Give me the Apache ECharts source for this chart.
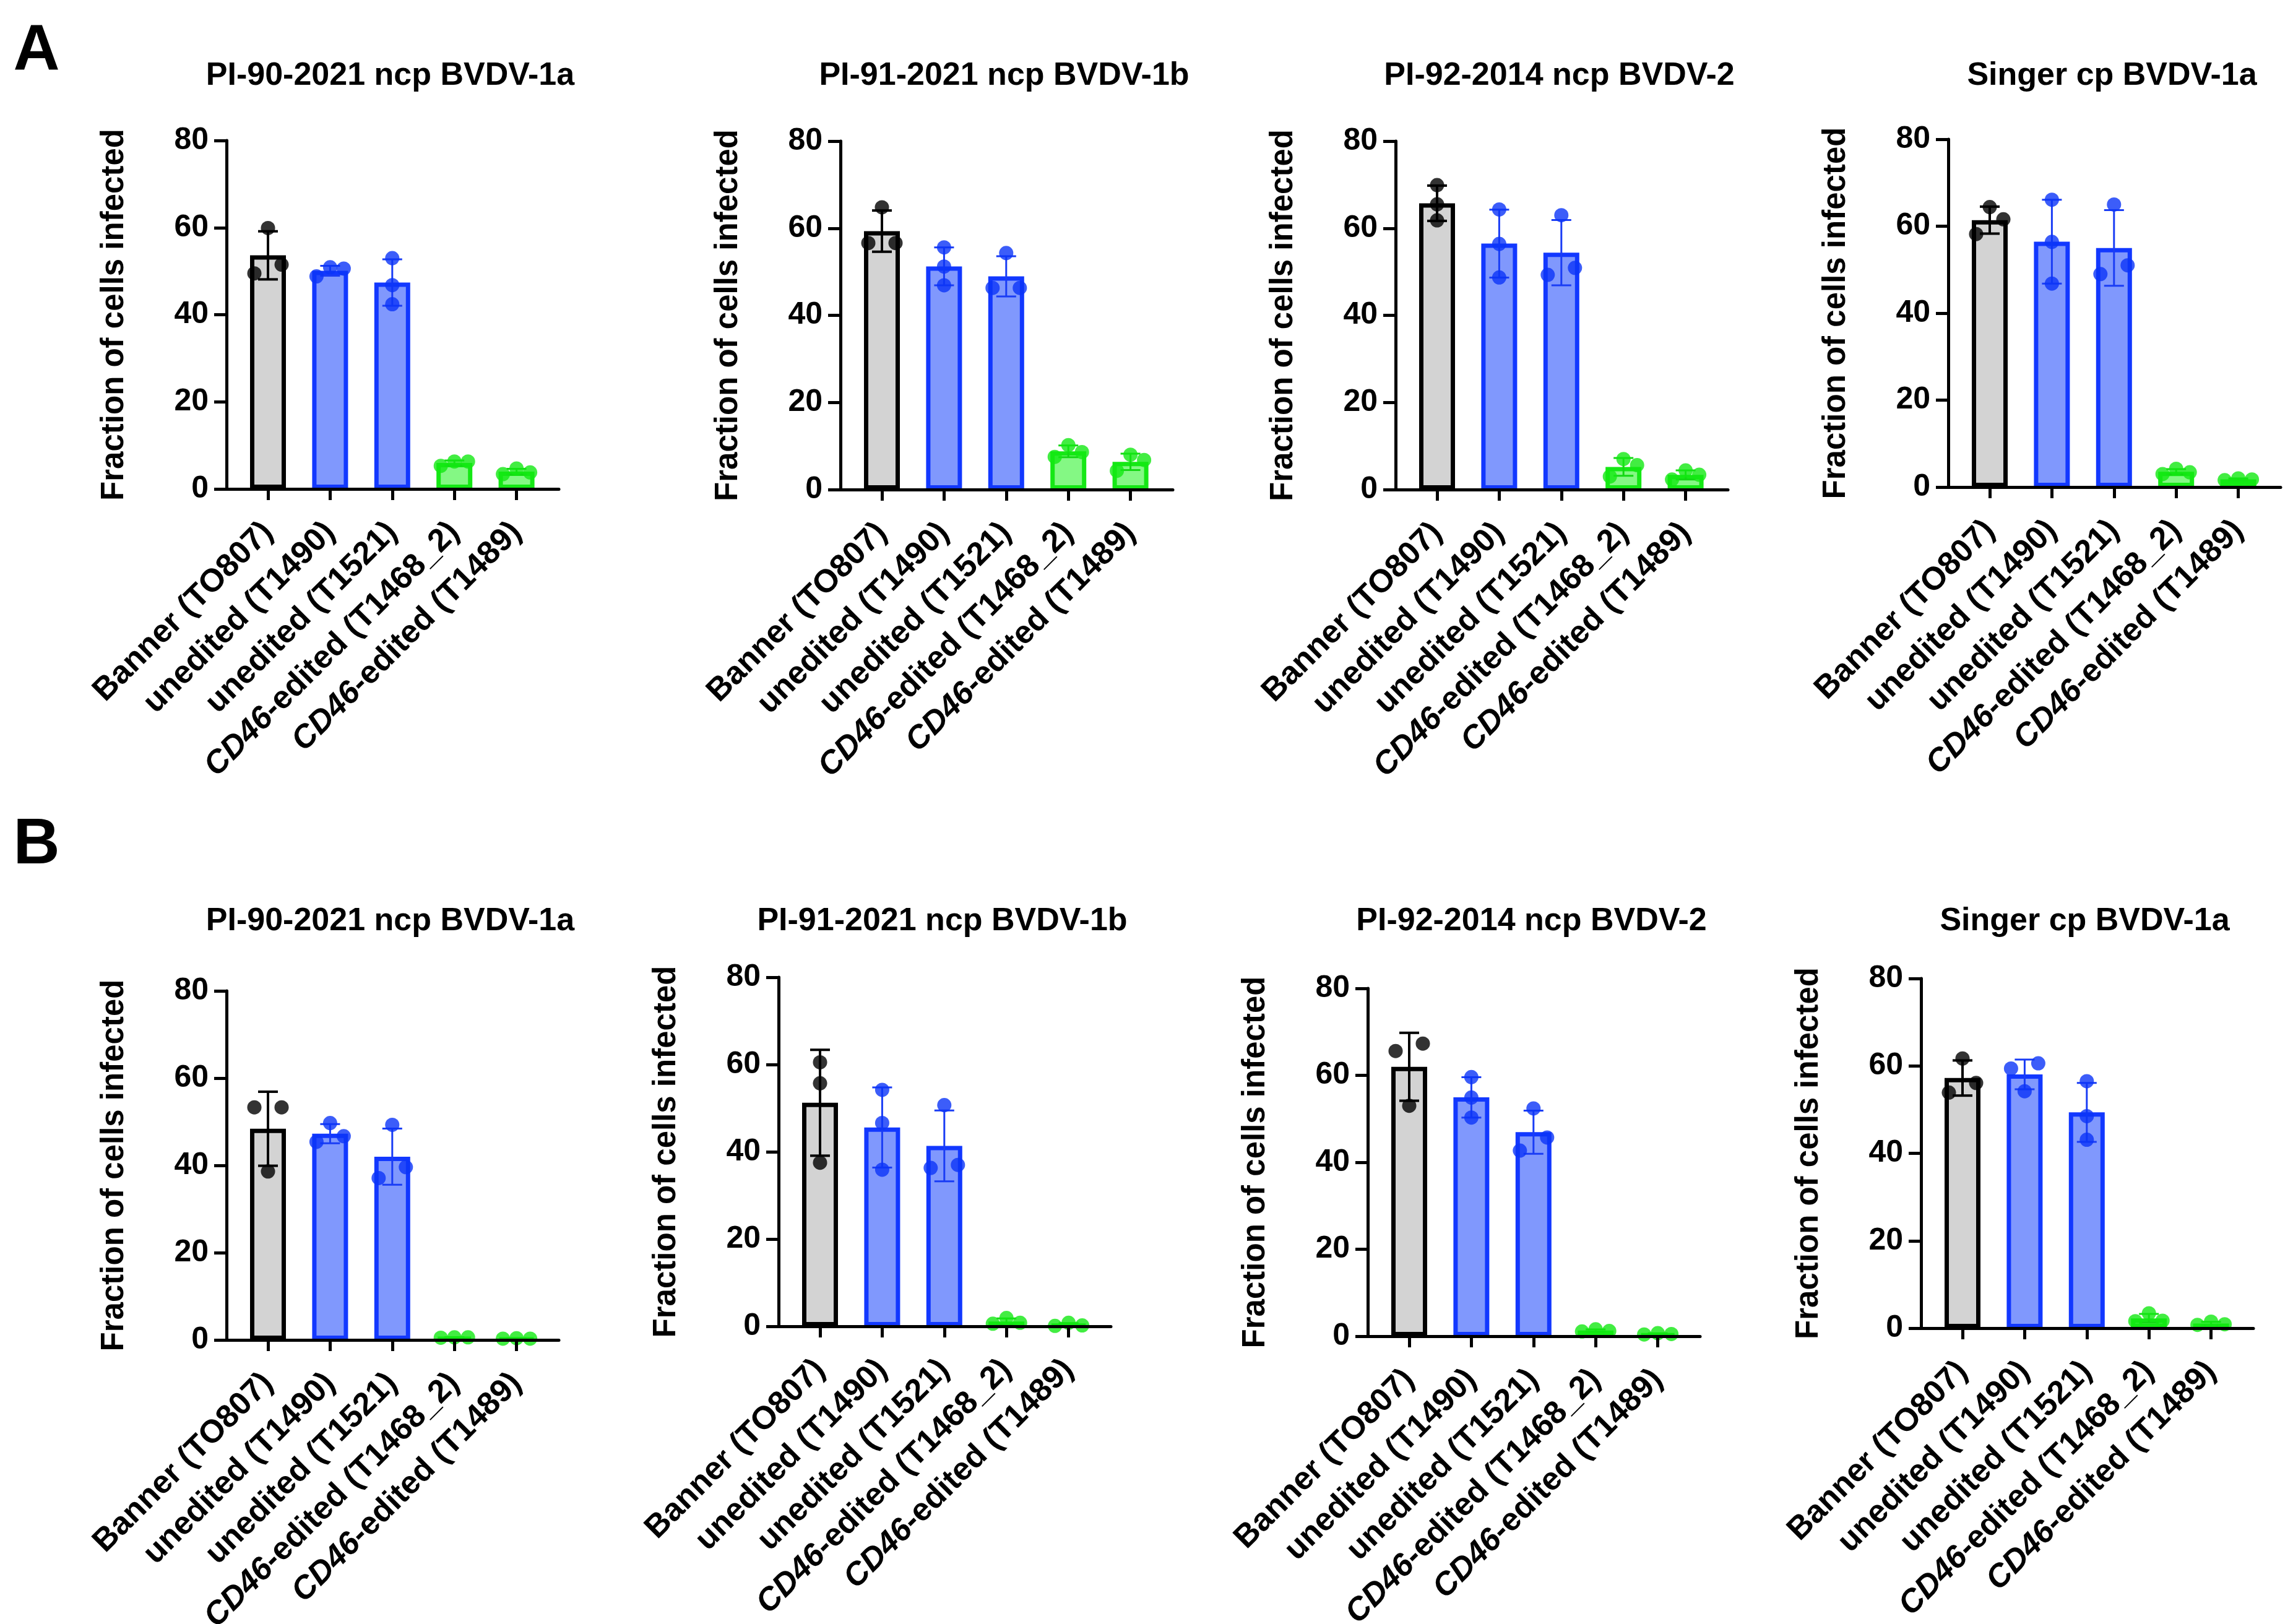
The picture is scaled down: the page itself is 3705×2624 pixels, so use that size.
<!DOCTYPE html>
<html>
<head>
<meta charset="utf-8">
<script src="https://cdn.jsdelivr.net/npm/echarts@6/dist/echarts.min.js"></script>
<style>
html,body{margin:0;padding:0;background:#ffffff;}
#chart{width:3705px;height:2624px;}
</style>
</head>
<body>
<div id="chart"></div>
<script>
// ---------------- data ----------------
const categories = ['Banner (TO807)', 'unedited (T1490)', 'unedited (T1521)', 'CD46-edited (T1468_2)', 'CD46-edited (T1489)'];
const categoryGroup = [0, 1, 1, 2, 2]; // 0 = control, 1 = unedited, 2 = CD46-edited
const panelTitles = ['PI-90-2021 ncp BVDV-1a', 'PI-91-2021 ncp BVDV-1b', 'PI-92-2014 ncp BVDV-2', 'Singer cp BVDV-1a'];
const rowLetters = ['A', 'B'];
const yAxisName = 'Fraction of cells infected';
const yTickValues = [0, 20, 40, 60, 80];

// Panel A (three replicates per cell line)
const A_PI90   = [[59.9, 49.5, 51.5], [48.8, 50.9, 50.6], [53.0, 46.8, 42.4], [5.3, 6.3, 6.3], [3.4, 4.7, 3.8]];
const A_PI91   = [[64.8, 56.6, 56.6], [55.6, 51.2, 46.9], [54.3, 46.3, 46.3], [7.5, 10.2, 8.6], [4.3, 8.0, 6.8]];
const A_PI92   = [[69.9, 65.5, 61.8], [64.3, 56.4, 48.7], [63.0, 49.3, 50.9], [7.0, 3.0, 5.6], [2.3, 4.4, 3.4]];
const A_Singer = [[64.4, 58.2, 61.6], [66.1, 56.4, 46.8], [65.0, 49.0, 51.0], [3.0, 4.2, 3.4], [1.6, 2.0, 1.75]];
// Panel B
const B_PI90   = [[53.3, 53.3, 38.6], [49.7, 45.4, 46.7], [49.3, 37.1, 39.6], [0.5, 0.6, 0.6], [0.3, 0.4, 0.3]];
const B_PI91   = [[60.5, 55.7, 37.5], [54.2, 46.6, 35.9], [50.7, 36.3, 37.0], [0.6, 1.9, 0.8], [0.1, 0.8, 0.2]];
const B_PI92   = [[67.3, 65.6, 53.0], [59.6, 54.9, 50.3], [52.4, 42.7, 45.7], [1.1, 1.6, 1.2], [0.4, 0.7, 0.5]];
const B_Singer = [[61.7, 56.1, 53.9], [60.6, 59.4, 54.2], [56.5, 48.5, 43.1], [1.7, 3.4, 1.6], [0.75, 1.5, 0.9]];

const rowsData = [[A_PI90, A_PI91, A_PI92, A_Singer], [B_PI90, B_PI91, B_PI92, B_Singer]];

// ---------------- layout & style (kept apart from data) ----------------
const FONT = '"Liberation Sans", Arial, Helvetica, sans-serif';
const panelAxisX  = [[366, 1358, 2255, 3148], [366, 1258, 2210, 3104]];
const panelTop    = [[227, 228, 228, 225], [1601, 1579, 1597, 1581]];
const panelBottom = [[790, 791, 791, 787], [2165, 2143, 2159, 2146]];
const titleY  = [123, 1489];
const letterPos = [[59, 83], [59, 1366]];
const FIRST_OFFSET = 67;   // y-axis line to first bar centre
const BAND = 100.4;        // bar spacing
const AXIS_LEN = 537;      // x-axis line length
const DOT_SIZE = 23;
const DOT_STEP = 22;
const CAP = 16;

const fillColor   = ['#d3d3d3', '#8098fd', '#84f884'];
const borderColor = ['#000000', '#1238ff', '#15e815'];
const dotColor    = ['#000000', '#0b35f8', '#13e813'];
const errColor    = ['#000000', '#1a3df5', '#13d813'];
const errWidth    = [4, 3, 3];

// ---------------- helpers ----------------
function mean(a) { return a.reduce((s, v) => s + v, 0) / a.length; }
function sd(a) {
  const m = mean(a);
  return Math.sqrt(a.reduce((s, v) => s + (v - m) * (v - m), 0) / (a.length - 1));
}
// spread overlapping replicate dots sideways (GraphPad-like)
function spread(vals, thr) {
  const idx = vals.map((v, i) => i).sort((a, b) => vals[a] - vals[b]);
  const off = vals.map(() => 0);
  const clusters = [];
  let cur = [idx[0]];
  for (let k = 1; k < idx.length; k++) {
    if (vals[idx[k]] - vals[idx[k - 1]] < thr) cur.push(idx[k]);
    else { clusters.push(cur); cur = [idx[k]]; }
  }
  clusters.push(cur);
  clusters.forEach(c => {
    if (c.length === 2) { off[c[0]] = -1; off[c[1]] = 1; }
    else if (c.length >= 3) { off[c[0]] = -1; off[c[c.length - 1]] = 0; off[c[1]] = 1; }
  });
  return off;
}

const grids = [], xAxes = [], yAxes = [], series = [], graphics = [];

rowsData.forEach((row, r) => {
  row.forEach((panel, p) => {
    const ax = panelAxisX[r][p];
    const top = panelTop[r][p];
    const h = panelBottom[r][p] - top;
    const wideIdx = grids.length;
    // wide grid: axis frame
    grids.push({ left: ax, top: top, width: AXIS_LEN, height: h, containLabel: false, outerBoundsMode: 'none' });
    xAxes.push({
      gridIndex: wideIdx, type: 'value', min: 0, max: 1, z: 10,
      axisLine: { show: true, onZero: false, lineStyle: { color: '#000', width: 5 } },
      axisTick: { show: false }, axisLabel: { show: false }, splitLine: { show: false }
    });
    yAxes.push({
      gridIndex: wideIdx, type: 'value', min: 0, max: 80, interval: 20, z: 10,
      axisLine: { show: true, lineStyle: { color: '#000', width: 5 } },
      axisTick: { show: true, length: 20, lineStyle: { color: '#000', width: 5 } },
      axisLabel: { show: true, margin: 29, color: '#000', fontSize: 50, fontWeight: 'bold', fontFamily: FONT,
        formatter: v => (yTickValues.indexOf(v) >= 0 ? String(v) : '') },
      splitLine: { show: false },
      name: yAxisName, nameLocation: 'middle', nameGap: 156, nameRotate: 90,
      nameTextStyle: { color: '#000', fontSize: 51, fontWeight: 'bold', fontFamily: FONT }
    });
    // bar grid
    const barIdx = grids.length;
    grids.push({ left: ax + FIRST_OFFSET - BAND / 2, top: top, width: BAND * 5, height: h,
      containLabel: false, outerBoundsMode: 'none' });
    xAxes.push({
      gridIndex: barIdx, type: 'category', data: categories, boundaryGap: true, z: 10,
      axisLine: { show: false },
      axisTick: { show: true, alignWithLabel: true, length: 18, lineStyle: { color: '#000', width: 5 } },
      axisLabel: {
        show: true, interval: 0, rotate: 45, margin: 62, color: '#000',
        fontSize: 52, fontWeight: 'bold', fontFamily: FONT,
        formatter: v => v.indexOf('CD46') === 0 ? '{i|CD46}{n|' + v.slice(4) + '}' : '{n|' + v + '}',
        rich: {
          i: { fontStyle: 'italic', fontWeight: 'bold', fontSize: 52, fontFamily: FONT, color: '#000' },
          n: { fontWeight: 'bold', fontSize: 52, fontFamily: FONT, color: '#000' }
        }
      },
      splitLine: { show: false }
    });
    yAxes.push({ gridIndex: barIdx, type: 'value', min: 0, max: 80, show: false, splitLine: { show: false } });

    const means = panel.map(mean);
    const sds = panel.map(sd);

    series.push({
      type: 'bar', xAxisIndex: barIdx, yAxisIndex: barIdx, barWidth: 58, z: 2, silent: true,
      data: means.map((m, ci) => ({
        value: m,
        itemStyle: { color: fillColor[categoryGroup[ci]], borderColor: borderColor[categoryGroup[ci]], borderWidth: 7 }
      }))
    });
    series.push({
      type: 'custom', xAxisIndex: barIdx, yAxisIndex: barIdx, z: 3, silent: true, clip: false,
      encode: { x: 0, y: 1 },
      data: means.map((m, ci) => [ci, m, sds[ci], categoryGroup[ci]]),
      renderItem: (params, api) => {
        const ci = api.value(0), m = api.value(1), s = api.value(2), g = api.value(3);
        const t = api.coord([ci, m + s]);
        const b = api.coord([ci, m - s]);
        const st = { stroke: errColor[g], lineWidth: errWidth[g] };
        return { type: 'group', children: [
          { type: 'line', shape: { x1: t[0], y1: t[1], x2: b[0], y2: b[1] }, style: st },
          { type: 'line', shape: { x1: t[0] - CAP, y1: t[1], x2: t[0] + CAP, y2: t[1] }, style: st },
          { type: 'line', shape: { x1: b[0] - CAP, y1: b[1], x2: b[0] + CAP, y2: b[1] }, style: st }
        ] };
      }
    });
    const dots = [];
    panel.forEach((vals, ci) => {
      const off = spread(vals, 3.5);
      vals.forEach((v, k) => {
        dots.push({
          value: [ci, v],
          symbolOffset: [off[k] * DOT_STEP, 0],
          itemStyle: { color: dotColor[categoryGroup[ci]] }
        });
      });
    });
    series.push({
      type: 'scatter', xAxisIndex: barIdx, yAxisIndex: barIdx, z: 4, silent: true, clip: false,
      symbol: 'circle', symbolSize: DOT_SIZE, data: dots
    });

    graphics.push({
      type: 'text', x: ax + AXIS_LEN / 2 - 4, y: titleY[r], silent: true,
      style: { text: panelTitles[p], fill: '#000', fontSize: 52, fontWeight: 'bold', fontFamily: FONT,
        align: 'center', verticalAlign: 'middle' }
    });
  });
  graphics.push({
    type: 'text', x: letterPos[r][0], y: letterPos[r][1], silent: true,
    style: { text: rowLetters[r], fill: '#000', fontSize: 104, fontWeight: 'bold', fontFamily: FONT,
      align: 'center', verticalAlign: 'middle' }
  });
});

const chart = echarts.init(document.getElementById('chart'), null, { renderer: 'canvas' });
chart.setOption({
  backgroundColor: '#ffffff',
  animation: false,
  grid: grids,
  xAxis: xAxes,
  yAxis: yAxes,
  series: series,
  graphic: graphics
});
</script>
</body>
</html>
